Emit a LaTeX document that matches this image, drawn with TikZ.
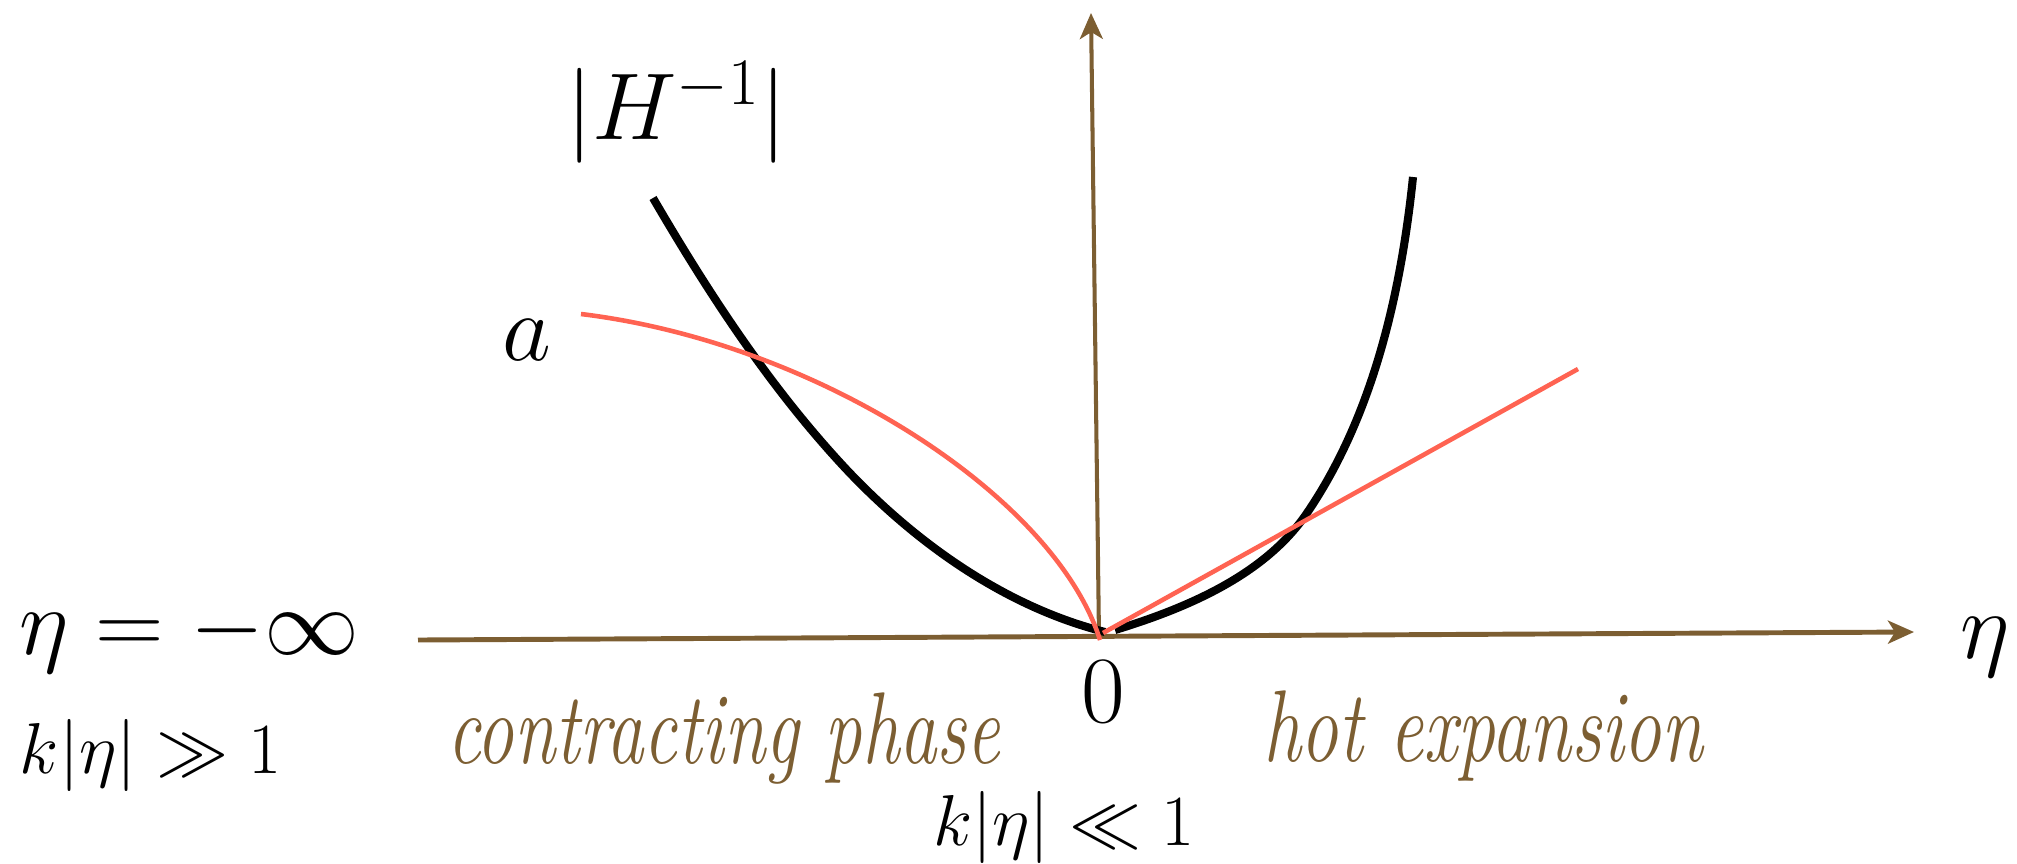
\documentclass[tikz,border=0pt]{standalone}
\usepackage{fix-cm}
\usepackage{graphicx}
\usetikzlibrary{arrows.meta}
\definecolor{axisbrown}{RGB}{124,94,50}
\definecolor{curvered}{RGB}{255,99,82}
\begin{document}
\begin{tikzpicture}[x=0.01cm,y=-0.01cm,
  every node/.style={inner sep=0pt,outer sep=0pt},
  axisline/.style={draw=axisbrown,-{Stealth[length=0.26cm,width=0.23cm,inset=0.07cm]}},
  bigmath/.style={font=\fontsize{27}{32}\selectfont},
  smallmath/.style={font=\fontsize{20.5}{24}\selectfont},
  phasetext/.style={text=axisbrown},
  hcurve/.style={draw=black,line width=2.3pt},
  acurve/.style={draw=curvered,line width=1.3pt}]
\useasboundingbox (0,0) rectangle (2017,863);
% axes
\coordinate (O) at (1099,637);
\coordinate (xs) at (418,640);
\coordinate (xe) at (1914,632);
\coordinate (ye) at (1091,13);
\draw[axisline,line width=1.4pt] (xs) -- (xe);
\draw[axisline,line width=1.15pt] (O) -- (ye);
% |H^{-1}| curve
\coordinate (hl0) at (653,198);
\coordinate (hl1) at (847,470);
\coordinate (hl2) at (1105,632);
\draw[hcurve] (hl0) .. controls (709,294) and (771,389) .. (hl1)
  .. controls (917,544) and (1006,607) .. (hl2);
\coordinate (hr0) at (1115,630);
\coordinate (hr1) at (1307,513);
\coordinate (hr2) at (1413,177);
\draw[hcurve] (hr0) .. controls (1187,608) and (1265,575) .. (hr1)
  .. controls (1373,416) and (1401,293) .. (hr2);
% a curve
\coordinate (a0) at (581,314);
\coordinate (a2) at (1100,640);
\draw[acurve] (a0) .. controls (819,343) and (1055,497) .. (a2);
\coordinate (ls) at (1103,633);
\coordinate (le) at (1578,369);
\draw[acurve] (ls) -- (le);
% labels
\node[bigmath,anchor=base west] (Hlab) at (566,139) {$|H^{-1}|$};
\node[bigmath,anchor=base west] (alab) at (502,360) {$a$};
\node[bigmath,anchor=base west] (minf) at (20,654) {$\eta=-\infty$};
\node[bigmath,anchor=base west] (etalab) at (1960,658) {$\eta$};
\node[bigmath,anchor=base] (zero) at (1103,722) {$0$};
\node[smallmath,anchor=base west] (kgg) at (20,773) {$k|\eta|\gg1$};
\node[smallmath,anchor=base west] (kll) at (933,845) {$k|\eta|\ll1$};
\node[phasetext,anchor=base west] (contr) at (447,763) {\resizebox{5.53cm}{\height}{\fontsize{29}{33}\selectfont\itshape contracting phase}};
\node[phasetext,anchor=base west] (hot) at (1263,761) {\resizebox{4.40cm}{\height}{\fontsize{29}{33}\selectfont\itshape hot expansion}};
\end{tikzpicture}
\end{document}
